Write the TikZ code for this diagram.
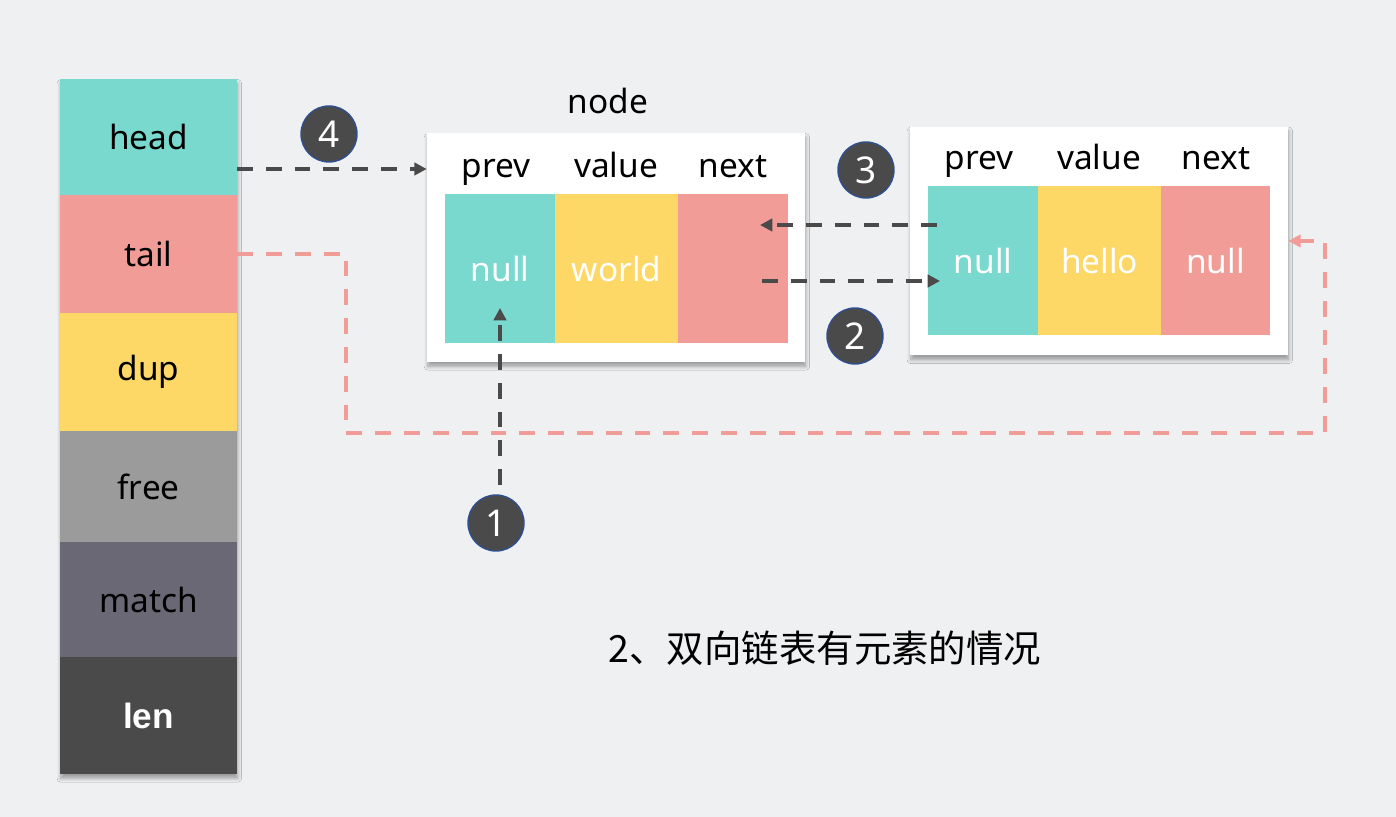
\documentclass[tikz,border=0pt]{standalone}
\usepackage{fontspec}
\setmainfont{Noto Sans}
\newfontfamily\cjk{Noto Sans CJK SC}
\newfontfamily\lenfont{Liberation Sans}
\usetikzlibrary{positioning,arrows.meta,calc,shadows.blur}
\definecolor{bgc}{HTML}{EFF0F2}
\definecolor{cteal}{HTML}{79D9CE}
\definecolor{cpink}{HTML}{F19C96}
\definecolor{cyell}{HTML}{FDD866}
\definecolor{cgrey}{HTML}{9B9B9B}
\definecolor{cmatch}{HTML}{6A6874}
\definecolor{cdark}{HTML}{4A4A4A}
\definecolor{cring}{HTML}{2F4F8F}
\tikzset{
  field/.style={rectangle,inner sep=0pt,minimum width=3.54cm,font=\fontsize{19}{22}\selectfont},
  card/.style={rectangle,fill=white,inner sep=0pt,minimum width=7.56cm,minimum height=4.58cm,
    blur shadow={shadow xshift=0.5pt,shadow yshift=-2.5pt,shadow blur steps=6,shadow opacity=35}},
  cell/.style={rectangle,inner sep=0pt,minimum height=2.98cm,text=white,font=\fontsize{19}{22}\selectfont},
  hdr/.style={font=\fontsize{19}{22}\selectfont,inner sep=0pt,text height=1.5ex,text depth=.3ex},
  step num/.style={circle,fill=cdark,draw=cring,line width=0.8pt,minimum size=1.12cm,inner sep=0pt,
    text=white,font=\fontsize{21}{24}\selectfont},
  darr/.style={draw=cdark,line width=2.3pt,dash pattern=on 9pt off 7.4pt,-{Triangle[length=7pt,width=7pt]}},
  parr/.style={draw=cpink,line width=2.3pt,dash pattern=on 9pt off 7.4pt,-{Triangle[length=7pt,width=7pt]}},
}
\begin{document}
\begin{tikzpicture}[x=0.02cm,y=-0.02cm]
  \fill[bgc] (0,0) rectangle (1396,817);
  % dict column
  \fill[white,blur shadow={shadow xshift=0.5pt,shadow yshift=-2.5pt,shadow blur steps=6,shadow opacity=35}]
    (60,79) rectangle (237,774);
  \foreach \n/\c/\y/\h in {head/cteal/137/116, tail/cpink/254/118, dup/cyell/372/118,
                           free/cgrey/486.5/111, match/cmatch/599.5/115}{
    \node[field,fill=\c,minimum height=\h*0.02cm] (\n) at (148.5,\y) {\n};
  }
  \node[field,fill=cdark,minimum height=2.34cm,text=white,font=\lenfont\fontsize{20}{22}\selectfont\bfseries]
    (len) at (148.5,715.5) {len};
  % first list node
  \node[font=\fontsize{19}{22}\selectfont] (title) at (608,101) {node};
  \node[card] (nodeA) at (616,247.5) {};
  \node[cell,fill=cteal,minimum width=2.2cm] (wprev) at (500,268.5) {null};
  \node[cell,fill=cyell,minimum width=2.46cm] (wval) at (616.5,268.5) {world};
  \node[cell,fill=cpink,minimum width=2.2cm] (wnext) at (733,268.5) {};
  \node[hdr] at (496,172) {prev};
  \node[hdr] at (616,172) {value};
  \node[hdr] at (733,172) {next};
  % second list node
  \node[card] (nodeB) at (1099,241) {};
  \node[cell,fill=cteal,minimum width=2.2cm] (hprev) at (983,260.5) {null};
  \node[cell,fill=cyell,minimum width=2.46cm] (hval) at (1099.5,260.5) {hello};
  \node[cell,fill=cpink,minimum width=2.18cm] (hnext) at (1215.5,260.5) {null};
  \node[hdr] at (979,164) {prev};
  \node[hdr] at (1099,164) {value};
  \node[hdr] at (1216,164) {next};
  % step markers
  \node[step num] (s4) at (329,134) {4};
  \node[step num] (s3) at (866,170) {3};
  \node[step num] (s2) at (855,336) {2};
  \node[step num] (s1) at (496,523) {1};
  % pointers
  \coordinate (h4) at (237,169);
  \coordinate (p3s) at (937,225);
  \coordinate (p3e) at (760,225);
  \coordinate (p2s) at (762,281);
  \coordinate (p2e) at (940,281);
  \coordinate (p1s) at (500,485);
  \coordinate (p1e) at (500,308);
  \coordinate (tbend) at (346,433);
  \coordinate (rbend) at (1325,433);
  \draw[darr] (h4) -- (h4 -| nodeA.west);
  \draw[darr] (p3s) -- (p3e);
  \draw[darr] (p2s) -- (p2e);
  \draw[darr] (p1s) -- (p1e);
  \draw[parr] (tail.east) -| (tbend) -- (rbend) |- (nodeB.east);
  % caption
  \node[font=\cjk\fontsize{21.3}{24}\selectfont] (cap) at (825,648) {2、双向链表有元素的情况};
\end{tikzpicture}
\end{document}
